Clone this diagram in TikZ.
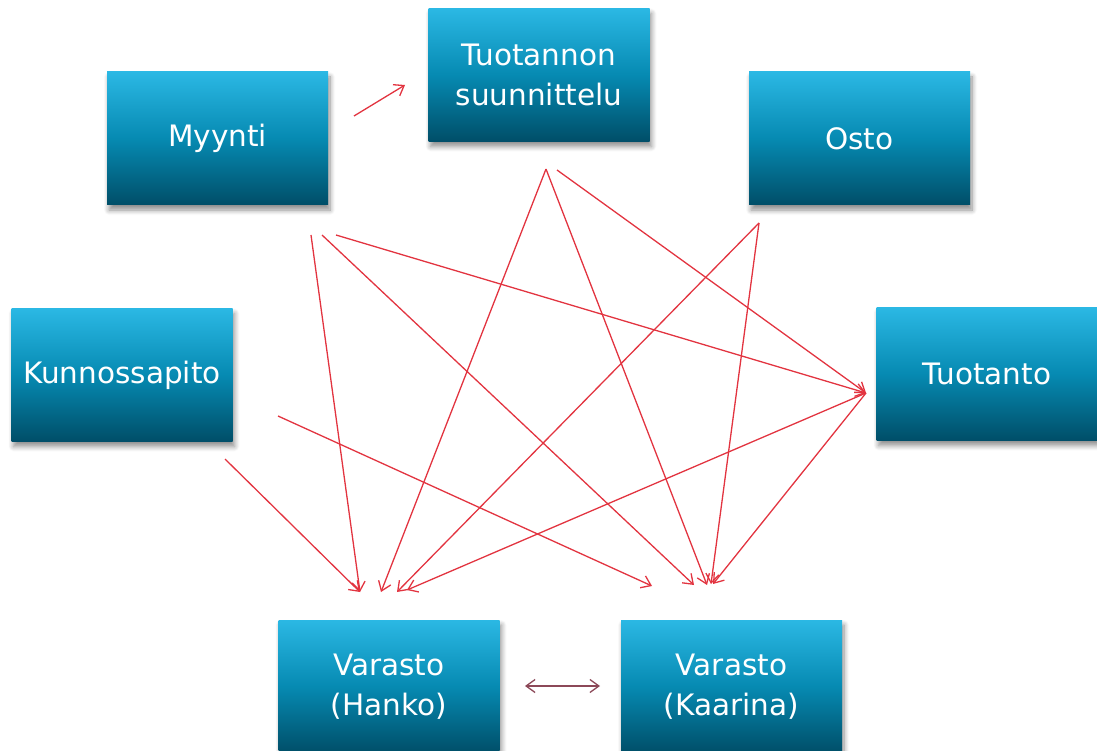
\documentclass[tikz,border=0pt]{standalone}
\usepackage{fontspec}
\setmainfont{DejaVu Sans}
\usetikzlibrary{arrows.meta,shadows.blur}

\definecolor{boxtop}{RGB}{43,184,228}
\definecolor{boxmid}{RGB}{6,138,178}
\definecolor{boxbot}{RGB}{0,78,104}
\definecolor{flow}{RGB}{226,52,64}
\definecolor{swap}{RGB}{140,72,88}

\tikzset{
  unit/.style={rectangle, minimum width=221pt, minimum height=133pt, inner sep=0pt,
    top color=boxtop, bottom color=boxbot, middle color=boxmid,
    text=white, font=\fontsize{29.5}{40}\selectfont, align=center,
    blur shadow={shadow xshift=2pt, shadow yshift=-5pt, shadow blur steps=8,
      shadow blur radius=5pt, shadow opacity=45}},
  tip/.tip={Straight Barb[length=9pt,width=13pt]},
  flowline/.style={draw=flow, line width=1.3pt, -tip},
  swapline/.style={draw=swap, line width=1.3pt, tip-tip},
}

\begin{document}
\begin{tikzpicture}[x=1pt,y=-1pt]
\useasboundingbox (0,0) rectangle (1097,751);

% departments
\node[unit] (myynti)  at (217.5,138.5) {Myynti};
\node[unit] (suunn)   at (539,75)      {Tuotannon\\suunnittelu};
\node[unit] (osto)    at (859.5,138.5) {Osto};
\node[unit] (kunnos)  at (122,375)     {Kunnossapito};
\node[unit] (tuot)    at (987,374)     {Tuotanto};
\node[unit] (hanko)   at (389,686.5)   {Varasto\\(Hanko)};
\node[unit] (kaarina) at (731.5,686.5) {Varasto\\(Kaarina)};

% arrow end points
\coordinate (myynti-a) at (354,116);
\coordinate (suunn-in) at (405,85);
\coordinate (myynti-1) at (311,235);
\coordinate (myynti-2) at (322,235);
\coordinate (myynti-3) at (336,235);
\coordinate (suunn-1)  at (546,169);
\coordinate (suunn-2)  at (557,170);
\coordinate (osto-1)   at (759,223);
\coordinate (kunnos-1) at (225,459);
\coordinate (kunnos-2) at (278,416);
\coordinate (tuot-io)  at (866,393);
\coordinate (hanko-1)  at (360,592);
\coordinate (hanko-2)  at (381,592);
\coordinate (hanko-3)  at (397,592);
\coordinate (hanko-4)  at (407,590);
\coordinate (kaar-1)   at (652,586);
\coordinate (kaar-2)   at (694,585);
\coordinate (kaar-3)   at (707,585);
\coordinate (kaar-4)   at (711,584);
\coordinate (kaar-5)   at (713,584);
\coordinate (hanko-s)  at (525,686);
\coordinate (kaar-s)   at (600,686);

% material and information flows
\draw[flowline] (myynti-a) -- (suunn-in);
\draw[flowline] (myynti-1) -- (hanko-1);
\draw[flowline] (myynti-2) -- (kaar-2);
\draw[flowline] (myynti-3) -- (tuot-io);
\draw[flowline] (suunn-1) -- (hanko-2);
\draw[flowline] (suunn-1) -- (kaar-3);
\draw[flowline] (suunn-2) -- (tuot-io);
\draw[flowline] (osto-1) -- (hanko-3);
\draw[flowline] (osto-1) -- (kaar-4);
\draw[flowline] (tuot-io) -- (hanko-4);
\draw[flowline] (tuot-io) -- (kaar-5);
\draw[flowline] (kunnos-1) -- (hanko-1);
\draw[flowline] (kunnos-2) -- (kaar-1);

% transfer between the warehouses
\draw[swapline] (hanko-s) -- (kaar-s);
\end{tikzpicture}
\end{document}
